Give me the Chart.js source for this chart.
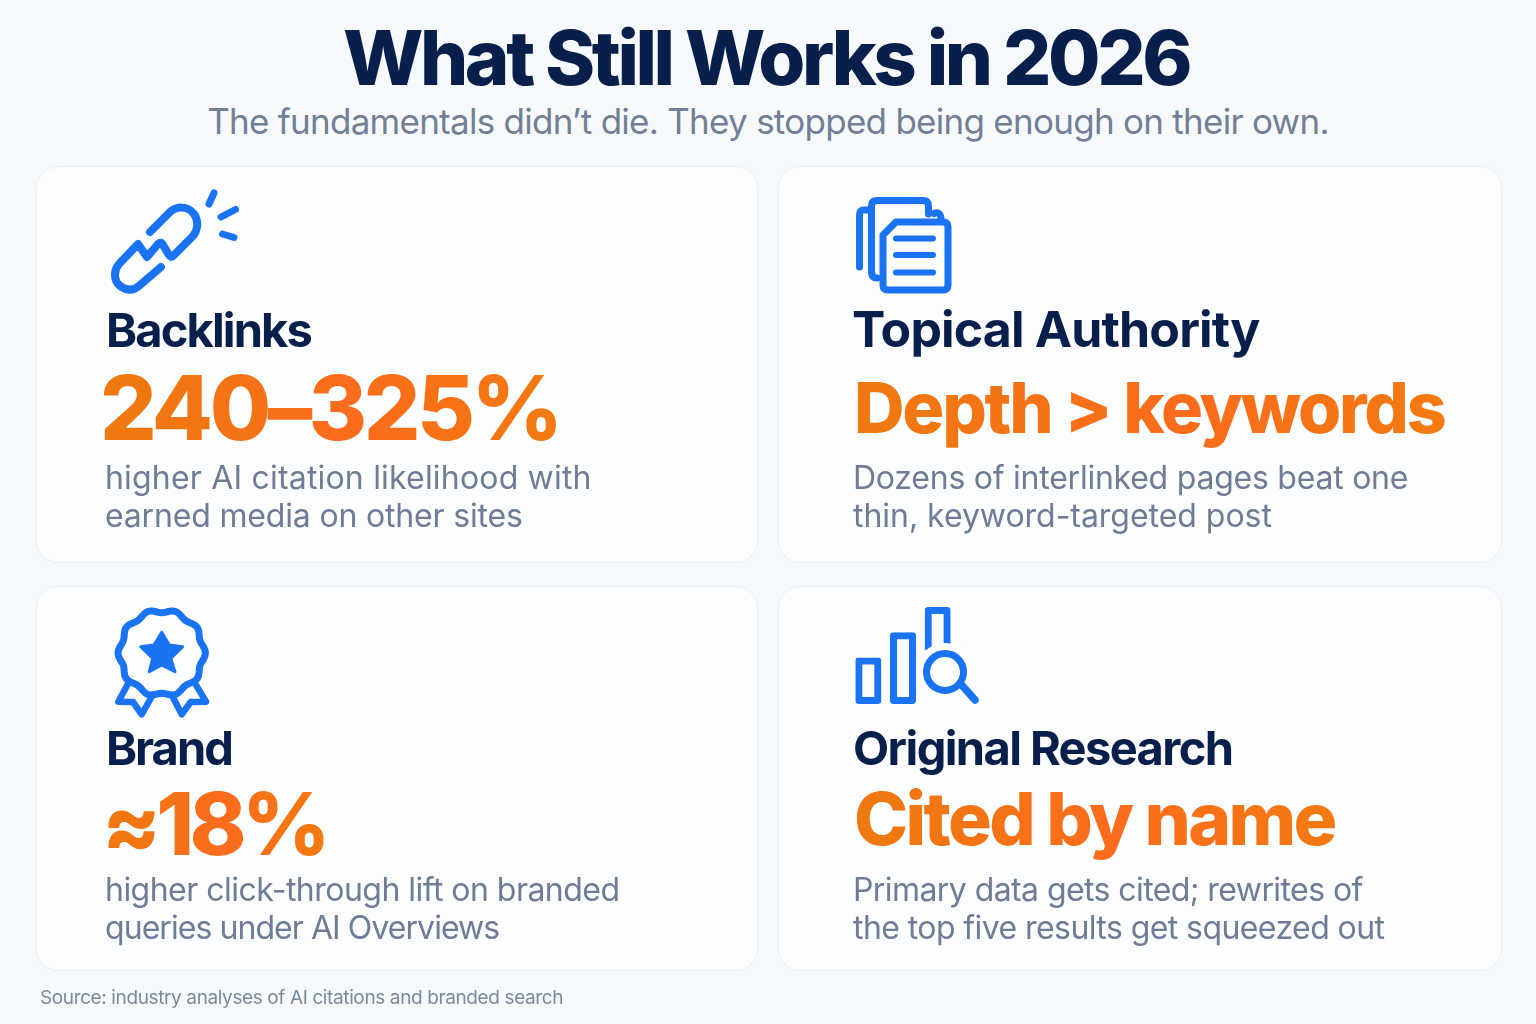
<!DOCTYPE html>
<html>
<head>
<meta charset="utf-8">
<title>What Still Works in 2026</title>
<script src="https://cdn.jsdelivr.net/npm/chart.js@4"></script>
<style>
  html, body { margin: 0; padding: 0; }
  body { width: 1536px; height: 1024px; position: relative; overflow: hidden; background: #f7fafd; font-family: Inter, sans-serif; }
  .t { position: absolute; white-space: nowrap; margin: 0; }
  #title { left: -2px; width: 1536px; text-align: center; top: 14px; font-size: 76px; line-height: 86px; font-weight: 800; color: #081f4b; letter-spacing: -3.4px; }
  #subtitle { left: 0; width: 1536px; text-align: center; top: 100px; font-size: 35px; line-height: 42px; color: #737f95; letter-spacing: -0.73px; }
  .card { position: absolute; box-sizing: border-box; background: #fbfdfe; border: 1px solid #ebf0f7; border-radius: 22px; }
  .name { line-height: 56px; font-weight: 700; color: #081f4b; }
  .stat { line-height: 90px; font-weight: 800; color: transparent;
          background: linear-gradient(90deg, #ee7a0e, #fb6c1c 55%, #f37a10); -webkit-background-clip: text; background-clip: text; }
  .desc { font-size: 32px; line-height: 38px; color: #6f7c95; }
  #source { left: 40px; top: 986px; font-size: 19px; line-height: 24px; color: #7c889d; letter-spacing: -0.38px; }
  #barIcon { position: absolute; left: 851px; top: 607px; width: 104px; height: 97px; }
  #icons { position: absolute; left: 0; top: 0; }
  #icons .s { fill: none; stroke: #1a73f2; stroke-linecap: round; stroke-linejoin: round; }
</style>
</head>
<body>
<h1 class="t" id="title"></h1>
<p class="t" id="subtitle"></p>
<div class="card" style="left:36px;top:166px;width:722px;height:397px"></div>
<div class="card" style="left:778px;top:166px;width:724px;height:397px"></div>
<div class="card" style="left:36px;top:586px;width:722px;height:385px"></div>
<div class="card" style="left:778px;top:586px;width:724px;height:385px"></div>
<div id="barIcon"><canvas id="barChart"></canvas></div>
<svg id="icons" width="1536" height="1024">
  <!-- broken link -->
  <g stroke-width="8">
    <path class="s" d="M150 232L168 214C176 205 188 206 194 214C199 221 198 231 192 237L173 256Q171 258 169 255L163 245Q161 241 158 244L147 257L138 244L119 264C113 271 114 281 120 286C127 291 134 291 140 285L161 267"/>
    <path class="s" stroke-width="7" d="M214 193L209 204M235.500 209.500L221 217M222.500 234L234 237.500"/>
  </g>
  <!-- documents -->
  <g stroke-width="7">
    <path class="s" d="M896 222L943 222Q948 222 948 227L948 285Q948 290 943 290L888 290Q883 290 883 285L883 235Z"/>
    <path class="s" d="M877 278Q871.500 278 871.500 272L871.500 206Q871.500 200.500 877 200.500L923 200.500Q928.500 200.500 928.500 206L928.500 214"/>
    <path class="s" d="M868 210L864 210Q859.500 210 859.500 215L859.500 267"/>
    <path class="s" d="M934 213.500Q940 211 941 218"/>
    <path class="s" stroke-width="6" d="M896 238.500L933 238.500M896 255L933 255M896 272.500L933 272.500"/>
  </g>
  <!-- badge -->
  <path id="badge" class="s" stroke-width="7"/>
  <path d="M161.700 632.300L169.300 645L182.700 646.700L170.700 658.300L175 671.700L161.700 665L149.300 671.700L152.700 658.300L140.700 646.700L154 645Z" fill="#1a73f2" stroke="#1a73f2" stroke-width="3" stroke-linejoin="round"/>
  <path class="s" stroke-width="6.500" d="M128.300 683.300L118.300 701.700L133 702L141.700 714.300L152.700 695M195 683.300L206 701.700L190.700 702L181.700 714.300L171.700 695"/>
  <!-- magnifier, hides the foot of the tall bar -->
  <rect x="920" y="650" width="36" height="58" fill="#fbfdfe"/>
  <circle cx="945" cy="672" r="29" fill="#fbfdfe"/>
  <circle class="s" cx="945" cy="672" r="18.500" stroke-width="7"/>
  <path class="s" stroke-width="7.500" d="M961.700 685L975 700"/>
</svg>
<script>
const titleText = 'What Still Works in 2026';
const subtitleText = 'The fundamentals didn\u2019t die. They stopped being enough on their own.';
const cardNames = ['Backlinks', 'Topical Authority', 'Brand', 'Original Research'];
const cardStats = ['240\u2013325%', 'Depth > keywords', '\u224818%', 'Cited by name'];
const cardLines1 = ['higher AI citation likelihood with', 'Dozens of interlinked pages beat one', 'higher click-through lift on branded', 'Primary data gets cited; rewrites of'];
const cardLines2 = ['earned media on other sites', 'thin, keyword-targeted post', 'queries under AI Overviews', 'the top five results get squeezed out'];
const sourceText = 'Source: industry analyses of AI citations and branded search';

// small bar icon on the last card
const barLabels = ['a', 'b', 'c'];
const barValues = [46, 71, 96];

const nameX = [106, 852, 106, 853];
const nameTop = [302, 301, 720, 720];
const nameSize = [47, 50, 47, 47];
const nameTrack = [-1.85, -0.85, -2, -1.6];
const statX = [100, 854, 102, 854];
const statTop = [363, 363, 779, 774];
const statSize = [89, 70, 86, 73];
const statTrack = [-3.5, -2.25, -4.7, -2.7];
const lineX = [105, 853, 105, 853];
const lineTop = [459, 459, 871, 871];
const line1Track = [0.19, -0.24, -0.53, -0.58];
const line2Track = [-0.17, -0.03, -0.94, -0.58];

function addText(cls, text, left, top, track) {
    const el = document.createElement('div');
    el.className = 't ' + cls;
    el.textContent = text;
    el.style.left = left + 'px';
    el.style.top = top + 'px';
    el.style.letterSpacing = track + 'px';
    document.body.appendChild(el);
    return el;
}

document.getElementById('title').textContent = titleText;
document.getElementById('subtitle').textContent = subtitleText;
cardNames.forEach(function(name, i) {
    addText('name', name, nameX[i], nameTop[i], nameTrack[i]).style.fontSize = nameSize[i] + 'px';
    addText('stat', cardStats[i], statX[i], statTop[i], statTrack[i]).style.fontSize = statSize[i] + 'px';
    addText('desc', cardLines1[i], lineX[i], lineTop[i], line1Track[i]);
    addText('desc', cardLines2[i], lineX[i], lineTop[i] + 38, line2Track[i]);
});
const src = document.createElement('div');
src.className = 't';
src.id = 'source';
src.textContent = sourceText;
document.body.appendChild(src);

// scalloped badge outline, ten lobes
let badge = '';
for (let a = 0; a < 360; a += 3) {
    const rad = a * Math.PI / 180;
    const r = 42 + 1.7 * Math.cos((a - 18) * 10 * Math.PI / 180);
    badge += (a ? 'L' : 'M') + (161.7 + r * Math.sin(rad)).toFixed(1) + ' ' + (653 - r * Math.cos(rad)).toFixed(1);
}
document.getElementById('badge').setAttribute('d', badge + 'Z');

new Chart(document.getElementById('barChart'), {
    type: 'bar',
    data: {
        labels: barLabels,
        datasets: [{
            data: barValues,
            backgroundColor: 'rgba(255,255,255,0)',
            borderColor: '#1a73f2',
            borderWidth: 7,
            borderSkipped: false,
            borderRadius: 3,
            barPercentage: 0.75,
            categoryPercentage: 1
        }]
    },
    options: {
        responsive: true,
        maintainAspectRatio: false,
        animation: false,
        plugins: { legend: { display: false }, tooltip: { enabled: false } },
        scales: {
            x: { display: false },
            y: { display: false, min: 0, max: 96 }
        }
    }
});
</script>
</body>
</html>
